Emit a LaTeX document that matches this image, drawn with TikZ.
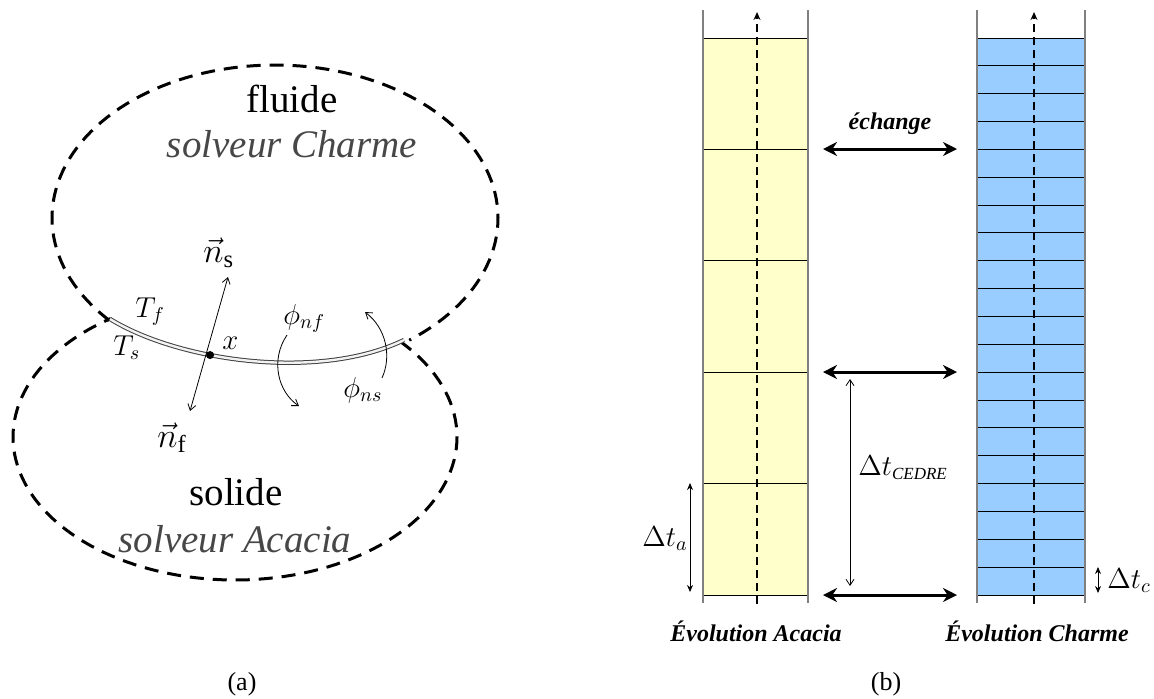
\documentclass[tikz,border=0pt]{standalone}
\usepackage{amsmath,amssymb}
\usepackage{fontspec}
\IfFontExistsTF{LiberationSerif-Regular.ttf}
  {\setmainfont{LiberationSerif}[Extension=.ttf, UprightFont=*-Regular, ItalicFont=*-Italic, BoldFont=*-Bold, BoldItalicFont=*-BoldItalic]}
  {\setmainfont{Liberation Serif}}
\usetikzlibrary{arrows.meta}

\definecolor{acaciafill}{HTML}{FFFFCC}
\definecolor{charmefill}{HTML}{99CCFF}

\begin{document}
\begin{tikzpicture}[x=0.5pt, y=-0.5pt,
    zone/.style={line width=1.5pt, dash pattern=on 7pt off 4.5pt},
    iface/.style={draw=black!75, line width=0.5pt, double=white!95!black, double distance=1.2pt},
    barbs/.style={{Straight Barb[length=3pt,width=4pt]}-{Straight Barb[length=3pt,width=4pt]}, line width=0.4pt},
    flux/.style={-{Straight Barb[length=3pt,width=4pt]}, line width=0.4pt},
    region/.style={font=\fontsize{19.5}{22}\selectfont, anchor=base},
    solver/.style={font=\fontsize{19.5}{22}\selectfont\itshape, text=black!72, anchor=base},
    mlabel/.style={font=\fontsize{14}{16}\selectfont, inner sep=0pt, anchor=base west},
    vlabel/.style={font=\fontsize{17.5}{19}\selectfont, inner sep=0pt, anchor=base west},
    cellline/.style={line width=0.5pt},
    colside/.style={draw=gray, line width=0.8pt},
    timeaxis/.style={line width=0.8pt, dash pattern=on 4pt off 2.5pt, -{Stealth[length=4pt,width=3.5pt]}},
    xchg/.style={{Stealth[length=7pt,width=7pt]}-{Stealth[length=7pt,width=7pt]}, line width=1.5pt},
    dt/.style={{Stealth[length=3.5pt,width=3pt]}-{Stealth[length=3.5pt,width=3pt]}, line width=0.4pt},
    colname/.style={font=\fontsize{12}{14}\selectfont\bfseries\itshape, anchor=base},
    caption/.style={font=\fontsize{13}{15}\selectfont, anchor=base}
]
\useasboundingbox (0,0) rectangle (1154,698);

% (a) fluid and solid domains
\draw[zone] plot[domain=138:413, samples=120] ({275+223*cos(\x)}, {218+153*sin(\x)});
\draw[zone] plot[domain=-42:236, samples=120] ({235+222*cos(\x)}, {437+143*sin(\x)});

\coordinate (ifL) at (110,319);
\coordinate (ifR) at (404,340);
\draw[iface] (ifL) .. controls (180,362) and (320,381) .. (ifR) coordinate[pos=0.37] (xpt);

\coordinate (nsTip) at (228,277);
\coordinate (nfTip) at (190,411);
\draw[barbs] (nfTip) -- (nsTip);
\fill (xpt) circle (2pt);

\coordinate (pnfA) at (287,335);
\coordinate (pnfB) at (299,406);
\coordinate (pnsA) at (382,378);
\coordinate (pnsB) at (365,312);
\draw[flux] (pnfA) .. controls (270,360) and (278,392) .. (pnfB);
\draw[flux] (pnsA) .. controls (392,356) and (386,328) .. (pnsB);

\node[region] (fluide) at (292,112) {fluide};
\node[solver] (charme) at (292,157) {solveur Charme};
\node[region] (solide) at (236,505) {solide};
\node[solver] (acacia) at (235,552) {solveur Acacia};

\node[vlabel] (ns) at (203,262) {$\vec{n}_{\mathrm{s}}$};
\node[vlabel] (nf) at (157,447) {$\vec{n}_{\mathrm{f}}$};
\node[mlabel] (Tf) at (135,317) {$T_f$};
\node[mlabel] (Ts) at (113,355) {$T_s$};
\node[mlabel] (xlab) at (222,349) {$x$};
\node[mlabel] (phinf) at (283,324) {$\phi_{nf}$};
\node[mlabel] (phins) at (343,397) {$\phi_{ns}$};

\node[caption] (capa) at (242,690) {(a)};

% (b) time stepping of both solvers
\fill[acaciafill] (703,38) rectangle (808,595);
\fill[charmefill] (977,38) rectangle (1085,595);
\foreach \k in {0,...,5}
    \draw[cellline] (703,{38+111.4*\k}) -- (808,{38+111.4*\k});
\foreach \k in {0,...,20}
    \draw[cellline] (977,{38+27.85*\k}) -- (1085,{38+27.85*\k});
\foreach \xx in {703,808,977,1085}
    \draw[colside] (\xx,10) -- (\xx,603);

\coordinate (acBot) at (757,604);
\coordinate (acTop) at (757,12);
\coordinate (chBot) at (1034,604);
\coordinate (chTop) at (1034,12);
\draw[timeaxis] (acBot) -- (acTop);
\draw[timeaxis] (chBot) -- (chTop);

\foreach \yy [count=\i] in {149,372,595} {
    \coordinate (xa\i) at (823,\yy);
    \coordinate (xc\i) at (957,\yy);
    \draw[xchg] (xa\i) -- (xc\i);
}
\node[colname] (echange) at (890,129) {échange};

\coordinate (cedTop) at (850,379);
\coordinate (cedBot) at (850,586);
\draw[barbs] (cedTop) -- (cedBot);
\node[mlabel] (dtced) at (858,475) {$\Delta t_{\text{\fontsize{8.5}{9}\selectfont\itshape CEDRE}}$};

\coordinate (daTop) at (690,483);
\coordinate (daBot) at (690,592);
\draw[dt] (daTop) -- (daBot);
\node[mlabel] (dta) at (642,546) {$\Delta t_a$};

\coordinate (dcTop) at (1098,567);
\coordinate (dcBot) at (1098,593);
\draw[dt] (dcTop) -- (dcBot);
\node[mlabel] (dtc) at (1107,588) {$\Delta t_c$};

\node[colname] (evacacia) at (756,641) {Évolution Acacia};
\node[colname] (evcharme) at (1037,641) {Évolution Charme};
\node[caption] (capb) at (886,690) {(b)};
\end{tikzpicture}
\end{document}
